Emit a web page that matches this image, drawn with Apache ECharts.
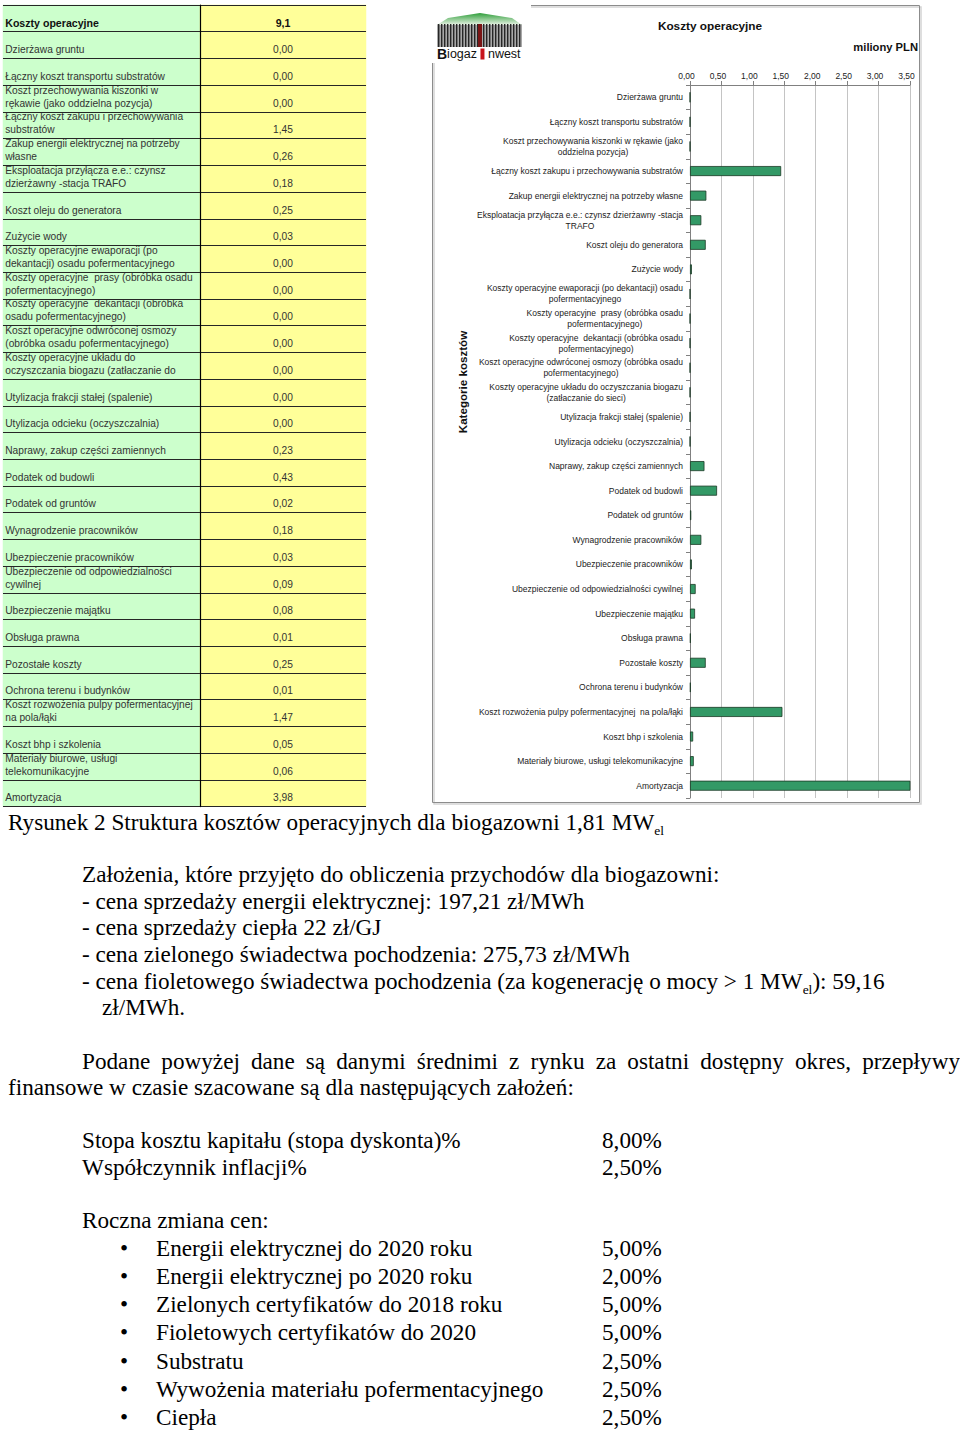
<!DOCTYPE html>
<html>
<head>
<meta charset="utf-8">
<script src="https://cdn.jsdelivr.net/npm/echarts@6/dist/echarts.min.js"></script>
<style>
html,body{margin:0;padding:0;background:#fff;}
body{width:960px;height:1432px;position:relative;overflow:hidden;font-family:"Liberation Serif","Times New Roman",serif;color:#000;}
#chart{position:absolute;left:0;top:0;width:960px;height:812px;}
.t{position:absolute;font-size:23.2px;line-height:23px;white-space:nowrap;}
.sub{font-size:13.5px;position:relative;top:5px;}
.just{text-align:justify;text-align-last:justify;white-space:normal;}
</style>
</head>
<body>
<div id="chart"></div>

<div class="t" style="left:8px;top:811px;">Rysunek 2 Struktura kosztów operacyjnych dla biogazowni 1,81 MW<span class="sub">el</span></div>

<div class="t" style="left:82px;top:863px;">Założenia, które przyjęto do obliczenia przychodów dla biogazowni:</div>
<div class="t" style="left:82px;top:890px;">- cena sprzedaży energii elektrycznej: 197,21 zł/MWh</div>
<div class="t" style="left:82px;top:916px;">- cena sprzedaży ciepła 22 zł/GJ</div>
<div class="t" style="left:82px;top:943px;">- cena zielonego świadectwa pochodzenia: 275,73 zł/MWh</div>
<div class="t" style="left:82px;top:970px;">- cena fioletowego świadectwa pochodzenia (za kogenerację o mocy &gt; 1 MW<span class="sub">el</span>): 59,16</div>
<div class="t" style="left:102px;top:996px;">zł/MWh.</div>

<div class="t just" style="left:82px;top:1050px;width:878px;">Podane powyżej dane są danymi średnimi z rynku za ostatni dostępny okres, przepływy</div>
<div class="t" style="left:8px;top:1076px;">finansowe w czasie szacowane są dla następujących założeń:</div>

<div class="t" style="left:82px;top:1129px;">Stopa kosztu kapitału (stopa dyskonta)%</div><div class="t" style="left:602px;top:1129px;">8,00%</div>
<div class="t" style="left:82px;top:1156px;">Współczynnik inflacji%</div><div class="t" style="left:602px;top:1156px;">2,50%</div>

<div class="t" style="left:82px;top:1209px;">Roczna zmiana cen:</div>
<div class="t" style="left:120px;top:1237px;">•</div><div class="t" style="left:156px;top:1237px;">Energii elektrycznej do 2020 roku</div><div class="t" style="left:602px;top:1237px;">5,00%</div>
<div class="t" style="left:120px;top:1265px;">•</div><div class="t" style="left:156px;top:1265px;">Energii elektrycznej po 2020 roku</div><div class="t" style="left:602px;top:1265px;">2,00%</div>
<div class="t" style="left:120px;top:1293px;">•</div><div class="t" style="left:156px;top:1293px;">Zielonych certyfikatów do 2018 roku</div><div class="t" style="left:602px;top:1293px;">5,00%</div>
<div class="t" style="left:120px;top:1321px;">•</div><div class="t" style="left:156px;top:1321px;">Fioletowych certyfikatów do 2020</div><div class="t" style="left:602px;top:1321px;">5,00%</div>
<div class="t" style="left:120px;top:1350px;">•</div><div class="t" style="left:156px;top:1350px;">Substratu</div><div class="t" style="left:602px;top:1350px;">2,50%</div>
<div class="t" style="left:120px;top:1378px;">•</div><div class="t" style="left:156px;top:1378px;">Wywożenia materiału pofermentacyjnego</div><div class="t" style="left:602px;top:1378px;">2,50%</div>
<div class="t" style="left:120px;top:1406px;">•</div><div class="t" style="left:156px;top:1406px;">Ciepła</div><div class="t" style="left:602px;top:1406px;">2,50%</div>

<script>
// ---------------- DATA ----------------
const categories = [
  'Dzierżawa gruntu',
  'Łączny koszt transportu substratów',
  'Koszt przechowywania kiszonki w rękawie (jako oddzielna pozycja)',
  'Łączny koszt zakupu i przechowywania substratów',
  'Zakup energii elektrycznej na potrzeby własne',
  'Eksploatacja przyłącza e.e.: czynsz dzierżawny -stacja TRAFO',
  'Koszt oleju do generatora',
  'Zużycie wody',
  'Koszty operacyjne ewaporacji (po dekantacji) osadu pofermentacyjnego',
  'Koszty operacyjne  prasy (obróbka osadu pofermentacyjnego)',
  'Koszty operacyjne  dekantacji (obróbka osadu pofermentacyjnego)',
  'Koszt operacyjne odwróconej osmozy (obróbka osadu pofermentacyjnego)',
  'Koszty operacyjne układu do oczyszczania biogazu (zatłaczanie do sieci)',
  'Utylizacja frakcji stałej (spalenie)',
  'Utylizacja odcieku (oczyszczalnia)',
  'Naprawy, zakup części zamiennych',
  'Podatek od budowli',
  'Podatek od gruntów',
  'Wynagrodzenie pracowników',
  'Ubezpieczenie pracowników',
  'Ubezpieczenie od odpowiedzialności cywilnej',
  'Ubezpieczenie majątku',
  'Obsługa prawna',
  'Pozostałe koszty',
  'Ochrona terenu i budynków',
  'Koszt rozwożenia pulpy pofermentacyjnej  na pola/łąki',
  'Koszt bhp i szkolenia',
  'Materiały biurowe, usługi telekomunikacyjne',
  'Amortyzacja'
];
const costValues = [
  0.00, 0.00, 0.00, 1.45, 0.26, 0.18, 0.25, 0.03, 0.00, 0.00,
  0.00, 0.00, 0.00, 0.00, 0.00, 0.23, 0.43, 0.02, 0.18, 0.03,
  0.09, 0.08, 0.01, 0.25, 0.01, 1.47, 0.05, 0.06, 3.98
];
const tableTitle = 'Koszty operacyjne';
const tableTotal = 9.1;
const chartTitle = 'Koszty operacyjne';
const unitLabel = 'miliony PLN';
const axisName = 'Kategorie kosztów';
const axisMin = 0, axisMax = 3.5, axisStep = 0.5;

// ---------------- HELPERS ----------------
const SANS = '"Liberation Sans", Arial, sans-serif';
const ctx = document.createElement('canvas').getContext('2d');
function wrapText(text, font, maxW, maxLines) {
  ctx.font = font;
  const words = text.split(' ');
  const lines = [];
  let cur = null;
  for (const w of words) {
    const test = cur === null ? w : cur + ' ' + w;
    if (cur !== null && cur !== '' && ctx.measureText(test).width > maxW) {
      lines.push(cur);
      cur = w;
    } else {
      cur = test;
    }
  }
  if (cur !== null) lines.push(cur);
  const out = lines.map(l => l.trim()).filter(l => l.length);
  return maxLines ? out.slice(0, maxLines) : out;
}
const fmt = (v, d) => v.toFixed(d).replace('.', ',');

const tableRows = [tableTitle].concat(categories);
const tableVals = [tableTotal].concat(costValues);

// ---------------- CHART ----------------
const chart = echarts.init(document.getElementById('chart'), null, {renderer: 'svg', width: 960, height: 812});

const logoStripes = [];
for (let i = 0; i < 28; i++) {
  logoStripes.push({type: 'rect', z: 101, silent: true, shape: {x: 438 + i * 3, y: 24, width: 1.4, height: 23}, style: {fill: '#262626'}});
}

const option = {
  backgroundColor: 'transparent',
  animation: false,
  textStyle: {fontFamily: SANS},
  title: [{
    text: chartTitle, left: 705, top: 15, textAlign: 'center',
    textStyle: {fontSize: 11.8, fontWeight: 'bold', color: '#111', fontFamily: SANS}
  }],
  grid: [
    {left: 690, top: 85, width: 220, height: 713, containLabel: false, outerBoundsMode: 'none'},
    {left: 3, top: 5, width: 197, height: 801.6, containLabel: false, outerBoundsMode: 'none'},
    {left: 200, top: 5, width: 166, height: 801.6, containLabel: false, outerBoundsMode: 'none'}
  ],
  xAxis: [
    {
      gridIndex: 0, type: 'value', position: 'top',
      min: axisMin, max: axisMax, interval: axisStep,
      axisLine: {show: true, lineStyle: {color: '#808080', width: 1}},
      axisTick: {show: true, length: 4, lineStyle: {color: '#808080'}},
      axisLabel: {formatter: v => fmt(v, 2), fontSize: 8.5, color: '#222', margin: 5, padding: [0, 7, 0, 0], fontFamily: SANS, showMinLabel: true, showMaxLabel: true},
      splitLine: {show: true, lineStyle: {color: '#c4c4c4', width: 1}}
    },
    {gridIndex: 1, type: 'category', data: ['a'], show: false},
    {gridIndex: 2, type: 'category', data: ['b'], show: false}
  ],
  yAxis: [
    {
      gridIndex: 0, type: 'category', data: categories, inverse: true,
      axisLine: {show: true, lineStyle: {color: '#808080', width: 1}},
      axisTick: {show: true, length: 4, interval: 0, lineStyle: {color: '#808080'}},
      axisLabel: {
        interval: 0, margin: 7,
        formatter: v => wrapText(v, '8.5px ' + SANS, 212).map(l => '{c|' + l + '}').join('\n'),
        rich: {c: {align: 'center', fontSize: 8.5, lineHeight: 11, color: '#222', fontFamily: SANS}}
      },
      splitLine: {show: false}
    },
    {
      gridIndex: 1, type: 'category', data: tableRows, inverse: true, z: 5,
      axisLine: {show: false}, axisTick: {show: false}, axisLabel: {show: false},
      splitLine: {show: true, interval: 0, lineStyle: {color: '#262626', width: 1.1}}
    },
    {
      gridIndex: 2, type: 'category', data: tableRows, inverse: true, z: 5,
      axisLine: {show: true, lineStyle: {color: '#000', width: 1.2}}, axisTick: {show: false}, axisLabel: {show: false},
      splitLine: {show: true, interval: 0, lineStyle: {color: '#262626', width: 1.1}}
    }
  ],
  series: [
    {
      type: 'bar', xAxisIndex: 0, yAxisIndex: 0,
      data: costValues, barWidth: 10, clip: true, silent: true,
      itemStyle: {color: '#339966', borderColor: '#1c3a26', borderWidth: 0.8}
    },
    {
      type: 'heatmap', xAxisIndex: 1, yAxisIndex: 1, silent: true,
      emphasis: {disabled: true},
      itemStyle: {color: '#ccffcc', borderWidth: 0},
      data: tableRows.map((n, i) => i === 0 ? {value: [0, i, 1], label: {fontWeight: 'bold', color: '#111', fontSize: 10.6}} : [0, i, 1]),
      label: {
        show: true, position: 'insideBottomLeft', distance: 2.5,
        fontSize: 10.2, lineHeight: 13, color: '#333', fontFamily: SANS,
        formatter: p => wrapText(tableRows[p.dataIndex], (p.dataIndex === 0 ? 'bold ' : '') + '10.2px ' + SANS, 189.5, 2).join('\n')
      }
    },
    {
      type: 'heatmap', xAxisIndex: 2, yAxisIndex: 2, silent: true,
      emphasis: {disabled: true},
      itemStyle: {color: '#ffff99', borderWidth: 0},
      data: tableVals.map((v, i) => i === 0 ? {value: [0, i, v], label: {fontWeight: 'bold', color: '#111', fontSize: 10.6}} : [0, i, v]),
      label: {
        show: true, position: 'insideBottom', distance: 2.5,
        fontSize: 10.2, lineHeight: 13, color: '#333', fontFamily: SANS,
        formatter: p => p.dataIndex === 0 ? fmt(p.value[2], 1) : fmt(p.value[2], 2)
      }
    }
  ],
  graphic: [
    // chart frame with light shadow
    {type: 'rect', z: -1, silent: true, shape: {x: 434, y: 7, width: 487, height: 797}, style: {fill: 'none', stroke: '#d4d4d4', lineWidth: 1.5}},
    {type: 'rect', z: -1, silent: true, shape: {x: 432.5, y: 5.5, width: 487, height: 797}, style: {fill: 'none', stroke: '#8c8c8c', lineWidth: 1}},
    // logo
    {type: 'rect', z: 100, silent: true, shape: {x: 431, y: 0, width: 100, height: 63}, style: {fill: '#fff'}},
    {type: 'polygon', z: 101, silent: true, shape: {points: [[437, 25], [448, 18], [480, 13], [512, 18], [522, 25]]},
      style: {fill: new echarts.graphic.LinearGradient(0, 0, 0, 1, [{offset: 0, color: '#2f9e3a'}, {offset: 1, color: '#e9f3e6'}])}},
    {type: 'rect', z: 100, silent: true, shape: {x: 437, y: 24, width: 85, height: 23}, style: {fill: '#a8a8a8'}}
  ].concat(logoStripes).concat([
    {type: 'rect', z: 102, silent: true, shape: {x: 478, y: 24, width: 4, height: 23}, style: {fill: '#7a1515'}},
    {type: 'text', z: 102, silent: true, x: 437, y: 54, style: {
      text: '{b|B}{n|iogaz }{r| }{n| nwest}', verticalAlign: 'middle', align: 'left',
      rich: {
        b: {fontSize: 14, fontWeight: 'bold', fill: '#111', fontFamily: SANS},
        n: {fontSize: 12.5, fill: '#111', fontFamily: SANS},
        r: {width: 4, height: 11, backgroundColor: '#c8141c', fontSize: 12.5}
      }
    }},
    {type: 'text', silent: true, x: 918, y: 47, style: {text: unitLabel, align: 'right', verticalAlign: 'middle', fontSize: 11.2, fontWeight: 'bold', fill: '#111', fontFamily: SANS}},
    {type: 'text', silent: true, x: 462, y: 382, rotation: Math.PI / 2, style: {text: axisName, align: 'center', verticalAlign: 'middle', fontSize: 11.6, fontWeight: 'bold', fill: '#111', fontFamily: SANS}}
  ])
};
chart.setOption(option);
</script>
</body>
</html>
